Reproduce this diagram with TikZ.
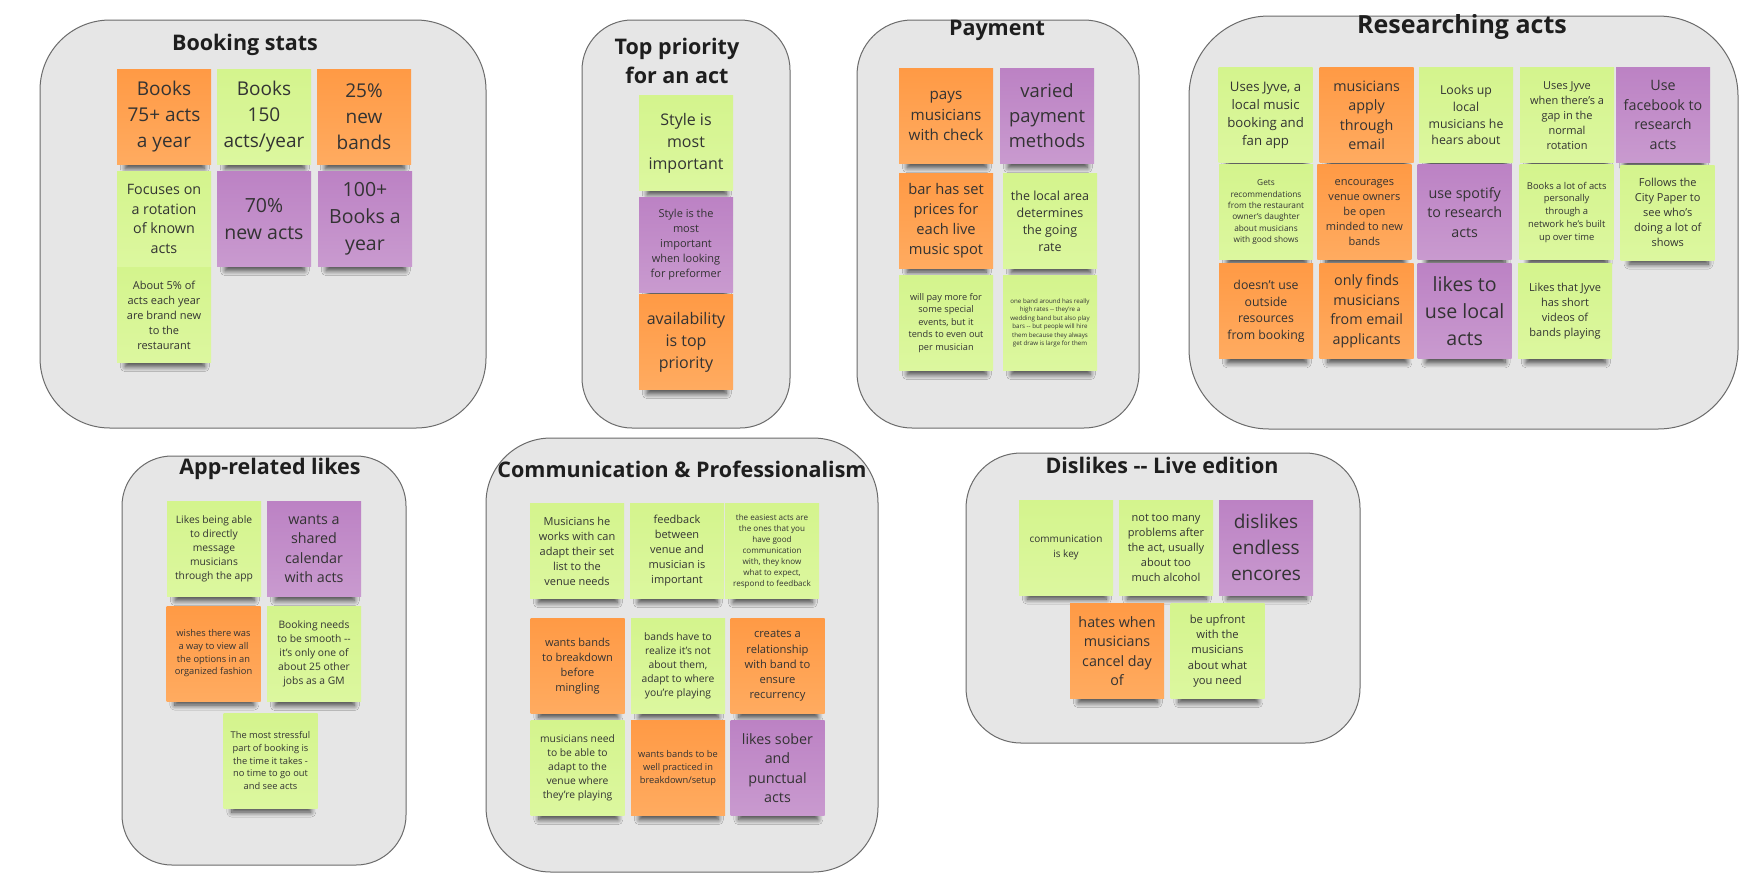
\documentclass[tikz,border=0pt]{standalone}
\usepackage{fontspec}
\setmainfont{Open Sans}
\usetikzlibrary{shadows.blur}
\definecolor{bg}{HTML}{E6E6E6}
\definecolor{frame}{HTML}{6B6B6B}
\definecolor{oT}{HTML}{FF9A45}\definecolor{oB}{HTML}{FFAB60}
\definecolor{gT}{HTML}{D4F48D}\definecolor{gB}{HTML}{DCF79F}
\definecolor{pT}{HTML}{BC82C4}\definecolor{pB}{HTML}{C99ACF}
\definecolor{ink}{HTML}{333333}
\definecolor{tink}{HTML}{1E1E1E}
\newcommand{\fsz}[2]{\fontsize{#1}{#2}\selectfont}
\begin{document}
\begin{tikzpicture}[x=1pt,y=-1pt,
  board/.style={fill=bg, draw=frame, line width=1pt},
  title/.style={font=\bfseries\fsz{21.5}{29}, text=tink, align=center, inner sep=0pt},
  sticky/.style={minimum width=94pt, minimum height=95pt, inner sep=2pt, align=center, text=ink,
    blur shadow={shadow xshift=1pt, shadow yshift=-14pt, shadow scale=0.84, shadow opacity=70, shadow blur radius=6pt, shadow blur steps=10}},
  so/.style={sticky, top color=oT, bottom color=oB},
  sg/.style={sticky, top color=gT, bottom color=gB},
  sp/.style={sticky, top color=pT, bottom color=pB}]
\useasboundingbox (0,0) rectangle (1755,884);
\fill[white] (0,0) rectangle (1755,884);

% Booking stats
\draw[board, rounded corners=70pt] (40,20) rectangle (486,428);
\node[title] (tBook) at (245,45) {Booking stats};
\node[so, font=\fsz{19}{26}] (bs1) at (164,117) {Books\\75+ acts\\a year};
\node[sg, font=\fsz{19}{26}] (bs2) at (264,117) {Books\\150\\acts/year};
\node[so, font=\fsz{19}{26}] (bs3) at (364,117) {25\%\\new\\bands};
\node[sg, font=\fsz{14.3}{19.5}] (bs4) at (164,219) {Focuses on\\a rotation\\of known\\acts};
\node[sp, font=\fsz{19.5}{27}] (bs5) at (264,219) {70\%\\new acts};
\node[sp, font=\fsz{19.5}{27}] (bs6) at (365,219) {100+\\Books a\\year};
\node[sg, font=\fsz{11}{15}] (bs7) at (164,315) {About 5\% of\\acts each year\\are brand new\\to the\\restaurant};

% Top priority
\draw[board, rounded corners=50pt] (582,20) rectangle (790,428);
\node[title] (tTop) at (677,60.5) {Top priority\\for an act};
\node[sg, font=\fsz{16}{22}] (tp1) at (686,143) {Style is\\most\\important};
\node[sp, font=\fsz{11}{15}] (tp2) at (686,245) {Style is the\\most\\important\\when looking\\for preformer};
\node[so, font=\fsz{16}{22}] (tp3) at (686,342) {availability\\is top\\priority};

% Payment
\draw[board, rounded corners=55pt] (857,20) rectangle (1139,428);
\node[title] (tPay) at (997,30.5) {Payment};
\node[so, font=\fsz{15.2}{20.7}] (p1) at (946,116) {pays\\musicians\\with check};
\node[sp, font=\fsz{18.4}{25}] (p2) at (1047,116) {varied\\payment\\methods};
\node[so, font=\fsz{14.7}{20}] (p3) at (946,220.5) {bar has set\\prices for\\each live\\music spot};
\node[sg, font=\fsz{12.5}{17}] (p4) at (1050,221) {the local area\\determines\\the going\\rate};
\node[sg, font=\fsz{9.2}{12.5}] (p5) at (946,323) {will pay more for\\some special\\events, but it\\tends to even out\\per musician};
\node[sg, font=\fsz{6.2}{8.5}] (p6) at (1050,323) {one band around has really\\high rates -{}- they're a\\wedding band but also play\\bars -{}- but people will hire\\them because they always\\get draw is large for them};

% Researching acts
\draw[board, rounded corners=80pt] (1189,16) rectangle (1738,429);
\node[title, font=\bfseries\fsz{25}{30}] (tRes) at (1462,27.5) {Researching acts};
\node[sg, font=\fsz{13.2}{18}] (r1) at (1265.6,115.2) {Uses Jyve, a\\local music\\booking and\\fan app};
\node[so, font=\fsz{14.3}{19.5}] (r2) at (1366.6,115.2) {musicians\\apply\\through\\email};
\node[sg, font=\fsz{12.3}{16.7}] (r3) at (1466,115.2) {Looks up\\local\\musicians he\\hears about};
\node[sg, font=\fsz{11}{15}] (r4) at (1567,115.2) {Uses Jyve\\when there's a\\gap in the\\normal\\rotation};
\node[sp, font=\fsz{14.3}{19.5}] (r5) at (1663,115.2) {Use\\facebook to\\research\\acts};
\node[sg, font=\fsz{8.3}{11.3}] (r6) at (1266,212.2) {Gets\\recommendations\\from the restaurant\\owner's daughter\\about musicians\\with good shows};
\node[so, font=\fsz{11}{15}] (r7) at (1364.4,212.2) {encourages\\venue owners\\be open\\minded to new\\bands};
\node[sp, font=\fsz{14.3}{19.5}] (r8) at (1464.7,212.2) {use spotify\\to research\\acts};
\node[sg, font=\fsz{9.4}{12.8}] (r9) at (1566.7,212.2) {Books a lot of acts\\personally\\through a\\network he's built\\up over time};
\node[sg, font=\fsz{11}{15}] (r10) at (1667.7,212.5) {Follows the\\City Paper to\\see who's\\doing a lot of\\shows};
\node[so, font=\fsz{12.3}{16.7}] (r11) at (1266,311.2) {doesn't use\\outside\\resources\\from booking};
\node[so, font=\fsz{14.3}{19.5}] (r12) at (1366.6,311.2) {only finds\\musicians\\from email\\applicants};
\node[sp, font=\fsz{19.6}{26.7}] (r13) at (1464.7,311.2) {likes to\\use local\\acts};
\node[sg, font=\fsz{11}{15}] (r14) at (1565,311.2) {Likes that Jyve\\has short\\videos of\\bands playing};

% App-related likes
\draw[board, rounded corners=50pt] (122,456) rectangle (406,865);
\node[title] (tApp) at (270,468.5) {App-related likes};
\node[sg, font=\fsz{10.3}{14}] (a1) at (214,549) {Likes being able\\to directly\\message\\musicians\\through the app};
\node[sp, font=\fsz{14.3}{19.5}] (a2) at (314,549) {wants a\\shared\\calendar\\with acts};
\node[so, font=\fsz{9.3}{12.7}] (a3) at (213.5,653.5) {wishes there was\\a way to view all\\the options in an\\organized fashion};
\node[sg, font=\fsz{10.3}{14}] (a4) at (314,654) {Booking needs\\to be smooth -{}-\\it's only one of\\about 25 other\\jobs as a GM};
\node[sg, font=\fsz{9.3}{12.7}] (a5) at (270.5,760.5) {The most stressful\\part of booking is\\the time it takes -\\no time to go out\\and see acts};

% Communication & Professionalism
\draw[board, rounded corners=65pt] (486,438) rectangle (878,872);
\node[title] (tCom) at (682,469) {Communication \& Professionalism};
\node[sg, font=\fsz{11}{15}] (c1) at (577,551) {Musicians he\\works with can\\adapt their set\\list to the\\venue needs};
\node[sg, font=\fsz{11}{15}] (c2) at (677,551) {feedback\\between\\venue and\\musician is\\important};
\node[sg, font=\fsz{8.1}{11}] (c3) at (772,551) {the easiest acts are\\the ones that you\\have good\\communication\\with, they know\\what to expect,\\respond to feedback};
\node[so, font=\fsz{11}{15}] (c4) at (577.5,666) {wants bands\\to breakdown\\before\\mingling};
\node[sg, font=\fsz{10.3}{14}] (c5) at (678,666) {bands have to\\realize it's not\\about them,\\adapt to where\\you're playing};
\node[so, font=\fsz{11.2}{15.3}] (c6) at (777.5,666) {creates a\\relationship\\with band to\\ensure\\recurrency};
\node[sg, font=\fsz{10.3}{14}] (c7) at (577.5,768) {musicians need\\to be able to\\adapt to the\\venue where\\they're playing};
\node[so, font=\fsz{9.3}{12.7}] (c8) at (678,768) {wants bands to be\\well practiced in\\breakdown/setup};
\node[sp, font=\fsz{14.3}{19.5}] (c9) at (777.5,768) {likes sober\\and\\punctual\\acts};

% Dislikes -- Live edition
\draw[board, rounded corners=55pt] (966,453) rectangle (1360,743);
\node[title] (tDis) at (1162,465) {Dislikes -{}- Live edition};
\node[sg, font=\fsz{10}{15}] (d1) at (1066,547.5) {communication\\is key};
\node[sg, font=\fsz{11}{15}] (d2) at (1166,547.5) {not too many\\problems after\\the act, usually\\about too\\much alcohol};
\node[sp, font=\fsz{19}{26}] (d3) at (1266,547.5) {dislikes\\endless\\encores};
\node[so, font=\fsz{14.3}{19.5}] (d4) at (1117,651) {hates when\\musicians\\cancel day\\of};
\node[sg, font=\fsz{11.2}{15.3}] (d5) at (1217.5,651) {be upfront\\with the\\musicians\\about what\\you need};
\end{tikzpicture}
\end{document}
